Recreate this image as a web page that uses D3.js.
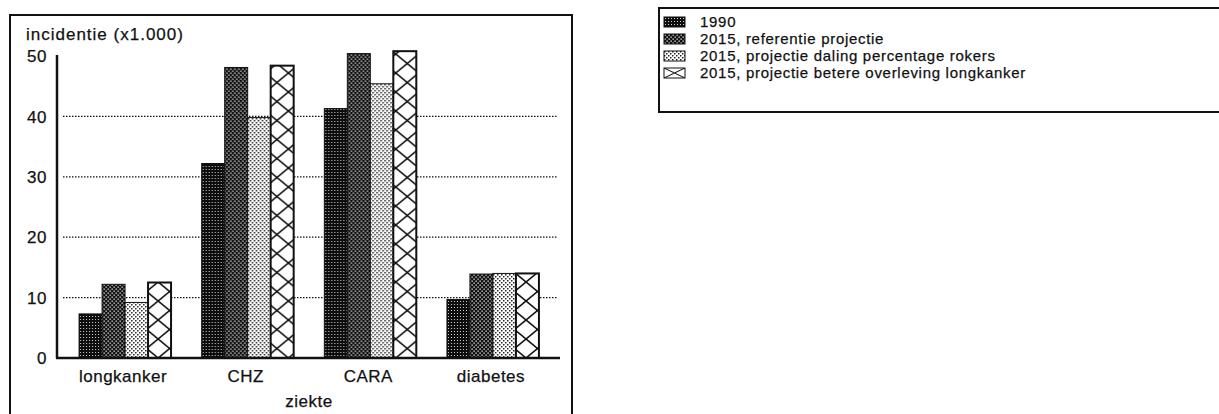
<!DOCTYPE html>
<html>
<head>
<meta charset="utf-8">
<script src="https://cdn.jsdelivr.net/npm/d3@7"></script>
<style>
  body { margin: 0; background: #fff; }
  text { font-family: "Liberation Sans", Arial, sans-serif; fill: #111; stroke: #111; stroke-width: 0.25; }
</style>
</head>
<body>
<div id="chart"></div>
<script>
// data
const categories = ["longkanker", "CHZ", "CARA", "diabetes"];
const seriesNames = ["1990", "2015, referentie projectie", "2015, projectie daling percentage rokers", "2015, projectie betere overleving longkanker"];
const v1990 = [7.3, 32.2, 41.3, 9.7];
const vRef = [12.2, 48.1, 50.4, 13.9];
const vDaling = [9.2, 39.8, 45.4, 14.0];
const vBetere = [12.5, 48.4, 50.8, 14.0];
const yTicks = [0, 10, 20, 30, 40, 50];
const gridTicks = [10, 20, 30, 40];

const seriesKeys = ["s1990", "sRef", "sDaling", "sBetere"];
const table = categories.map((c, i) => ({
  cat: c, s1990: v1990[i], sRef: vRef[i], sDaling: vDaling[i], sBetere: vBetere[i]
}));

const width = 1219, height = 414;
const svg = d3.select("#chart").append("svg")
  .attr("width", width).attr("height", height);

svg.append("rect").attr("width", width).attr("height", height).attr("fill", "#fff");

const x0 = d3.scaleBand().domain(categories).range([57, 561])
  .paddingInner(0.25).paddingOuter(0.18);
const x1 = d3.scaleBand().domain(seriesKeys).range([0, x0.bandwidth()]);
const y = d3.scaleLinear().domain([0, 50]).range([358, 56]);

const defs = svg.append("defs");

// fill patterns, like the old b/w printout
function dotPattern(id, size, bg, fg, dots, ds) {
  const p = defs.append("pattern").attr("id", id)
    .attr("patternUnits", "userSpaceOnUse").attr("width", size).attr("height", size);
  p.append("rect").attr("width", size).attr("height", size).attr("fill", bg);
  dots.forEach(d => p.append("rect").attr("x", d[0]).attr("y", d[1])
    .attr("width", ds).attr("height", ds).attr("fill", fg));
}
dotPattern("p1990", 3, "#0d0d0d", "#fff", [[1, 1]], 0.9);
dotPattern("pRef", 4, "#111", "#fff", [[0.5, 0.5], [2.5, 2.5]], 1.25);
dotPattern("pDaling", 4, "#fff", "#222", [[0, 0], [2, 2]], 1.5);

// cross hatch, one pattern per group so the X's line up with the bar
categories.forEach((c, i) => {
  const bx = x0(c) + x1("sBetere");
  const bw = x1.bandwidth();
  const ph = 19;
  const p = defs.append("pattern").attr("id", "pX" + i)
    .attr("patternUnits", "userSpaceOnUse")
    .attr("x", bx).attr("y", y(0)).attr("width", bw).attr("height", ph);
  p.append("rect").attr("width", bw).attr("height", ph).attr("fill", "#fff");
  p.append("path").attr("d", `M0,0L${bw},${ph}M${bw},0L0,${ph}`)
    .attr("stroke", "#111").attr("stroke-width", 1.6).attr("fill", "none");
});
// legend version of the hatch
const pl = defs.append("pattern").attr("id", "pXleg")
  .attr("patternUnits", "objectBoundingBox").attr("patternContentUnits", "objectBoundingBox")
  .attr("width", 1).attr("height", 1);
pl.append("rect").attr("width", 1).attr("height", 1).attr("fill", "#fff");
pl.append("path").attr("d", "M0,0L1,1M1,0L0,1").attr("stroke", "#111")
  .attr("stroke-width", 0.08).attr("fill", "none");

const fills = { s1990: () => "url(#p1990)", sRef: () => "url(#pRef)", sDaling: () => "url(#pDaling)", sBetere: i => `url(#pX${i})` };

// outer frame of the chart
svg.append("path")
  .attr("d", "M10,414L10,15L572,15L572,414")
  .attr("fill", "none").attr("stroke", "#111").attr("stroke-width", 2);

// dotted gridlines
svg.append("g").selectAll("line").data(gridTicks).join("line")
  .attr("x1", 63).attr("x2", 558)
  .attr("y1", d => y(d)).attr("y2", d => y(d))
  .attr("stroke", "#111").attr("stroke-width", 1.2)
  .attr("stroke-dasharray", "1.5,1.5");

// bars
const groups = svg.append("g").selectAll("g").data(table).join("g")
  .attr("transform", d => `translate(${x0(d.cat)},0)`);
groups.selectAll("rect")
  .data((d, i) => seriesKeys.map(k => ({ key: k, value: d[k], gi: i })))
  .join("rect")
  .attr("x", d => x1(d.key))
  .attr("y", d => y(d.value))
  .attr("width", x1.bandwidth())
  .attr("height", d => y(0) - y(d.value))
  .attr("fill", d => fills[d.key](d.gi))
  .attr("stroke", "#111")
  .attr("stroke-width", d => d.key === "sBetere" ? 2 : 1);

// axes lines
svg.append("line").attr("x1", 57).attr("x2", 57).attr("y1", y(50) - 1).attr("y2", y(0))
  .attr("stroke", "#111").attr("stroke-width", 2.5);
svg.append("line").attr("x1", 56).attr("x2", 560).attr("y1", y(0)).attr("y2", y(0))
  .attr("stroke", "#111").attr("stroke-width", 2.5);

// y tick labels
svg.append("g").selectAll("text").data(yTicks).join("text")
  .attr("x", 47).attr("y", d => y(d)).attr("dy", "0.36em")
  .attr("text-anchor", "end").attr("font-size", 17).attr("letter-spacing", 0.5)
  .text(d => d);

// category labels
svg.append("g").selectAll("text").data(categories).join("text")
  .attr("x", d => x0(d) + x0.bandwidth() / 2 - 2).attr("y", 382)
  .attr("text-anchor", "middle").attr("font-size", 17).attr("letter-spacing", 0.5)
  .text(d => d);

svg.append("text").attr("x", 309).attr("y", 407).attr("text-anchor", "middle")
  .attr("font-size", 17).attr("letter-spacing", 0.5).text("ziekte");
svg.append("text").attr("x", 26).attr("y", 40)
  .attr("font-size", 17).attr("letter-spacing", 1).text("incidentie (x1.000)");

// legend
svg.append("rect").attr("x", 659).attr("y", 8).attr("width", 620).attr("height", 104)
  .attr("fill", "#fff").attr("stroke", "#111").attr("stroke-width", 2);
const leg = svg.append("g").selectAll("g").data(seriesKeys).join("g")
  .attr("transform", (d, i) => `translate(664,${17 + i * 17})`);
leg.append("rect").attr("width", 21).attr("height", 10)
  .attr("fill", (d, i) => i === 3 ? "url(#pXleg)" : fills[d](0))
  .attr("stroke", "#111").attr("stroke-width", 1);
leg.append("text").attr("x", 36).attr("y", 10)
  .attr("font-size", 15).attr("letter-spacing", 0.7)
  .text((d, i) => seriesNames[i]);
</script>
</body>
</html>
